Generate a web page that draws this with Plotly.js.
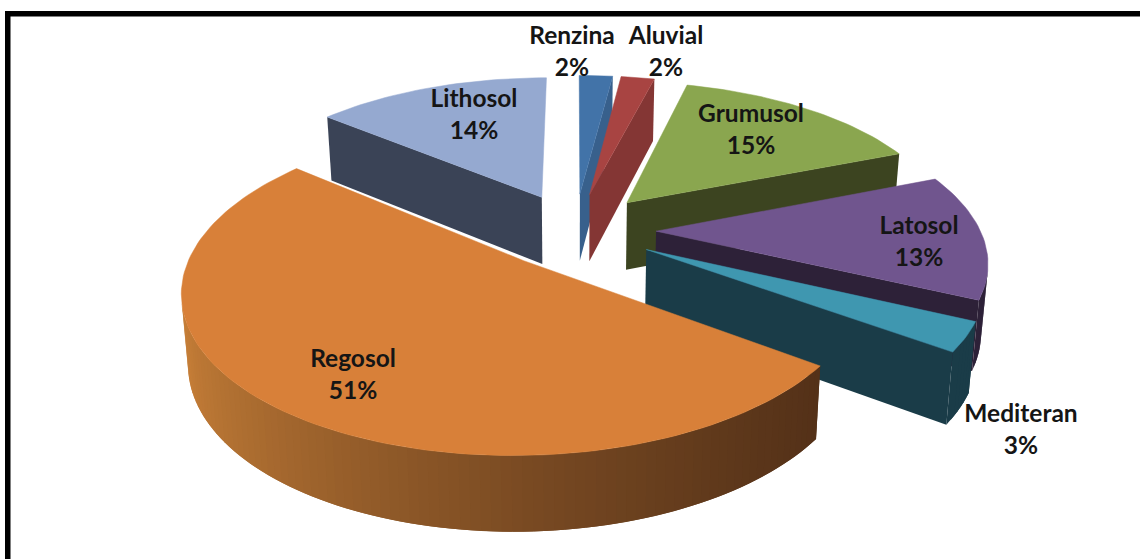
<!DOCTYPE html>
<html><head><meta charset="utf-8">
<script src="https://cdn.plot.ly/plotly-3.0.1.min.js"></script>
<style>html,body{margin:0;padding:0;background:#fff}#c{width:1140px;height:559px}</style></head>
<body><div id="c"></div>
<script>
// data, clockwise from the top of the pie
const categories = ['Renzina','Aluvial','Grumusol','Latosol','Mediteran','Regosol','Lithosol'];
const percents   = [2,2,15,13,3,51,14];
const topColors  = ['#4273A8','#A84442','#8AA64F','#70558E','#3F97B0','#D88039','#95A9D0'];
const wallColors = ['#38608C','#843634','#3C4420','#2D2138','#1A3C48','#56321A','#3A4356'];
const explode    = [0.25,0.25,0.25,0.25,0.25,0.25,0.25];
const drawOrder  = [0,1,6,2,3,4,5];
const labelX     = [572,666,751,919,1021,353,474];
const labelY     = [54,54,132,244,432,377,117];

// pie-plane to screen projection (axes are in screen pixels)
const CX=575, CY=230, A=324, B=150, K=0.17, D=68;
function topPt(u,v){const w=1+K*v;return [CX+A*u/w, CY-B*v/w];}
function botPt(u,v){const p=topPt(u,v),w=1+K*v;return [CX+(p[0]-CX)*0.983, p[1]+D/Math.sqrt(w)];}
const rad=d=>d*Math.PI/180;
function area(q){let s=0;for(let i=0;i<q.length;i++){const a=q[i],b=q[(i+1)%q.length];s+=a[0]*b[1]-b[0]*a[1];}return s;}
function poly(pts,color,lw){
  return {type:'scatter',mode:'lines',x:pts.map(p=>p[0]).concat(pts[0][0]),y:pts.map(p=>p[1]).concat(pts[0][1]),
    fill:'toself',fillcolor:color,line:{color:color,width:lw},hoverinfo:'skip',showlegend:false};
}
function mix(a,b,t){return 'rgb('+a.map((c,i)=>Math.round(c+(b[i]-c)*t)).join(',')+')';}
const total=percents.reduce((a,b)=>a+b,0);
const starts=[];let acc=0;percents.forEach(p=>{starts.push(acc);acc+=p/total*360;});
const traces=[];
drawOrder.forEach(i=>{
  const t0=starts[i],t1=t0+percents[i]/total*360,mid=rad((t0+t1)/2);
  const ou=explode[i]*Math.sin(mid),ov=explode[i]*Math.cos(mid);
  const n=Math.max(3,Math.round((t1-t0)/1.5));
  const path=[[ou,ov]];
  for(let k=0;k<=n;k++){const t=rad(t0+(t1-t0)*k/n);path.push([ou+Math.sin(t),ov+Math.cos(t)]);}
  const m=path.length;
  const isGrad=categories[i]==='Regosol';
  let prevVisible=false;
  for(let k=0;k<m;k++){
    const a=path[k],b=path[(k+1)%m];
    const q=[topPt(a[0],a[1]),topPt(b[0],b[1]),botPt(b[0],b[1]),botPt(a[0],a[1])];
    const radial=(k===0||k===m-1);
    if(area(q)<0 && !(radial && q[1][0]-q[0][0]>-6)){
      let col=wallColors[i];
      if(isGrad){
        const f=Math.min(1,Math.max(0,(q[0][0]-185)/(815-185)));
        col=mix([196,125,55],[84,49,24],Math.pow(f,0.65));
      }
      // overlap the strip drawn just before it so that no seam shows
      const from=(prevVisible&&!radial)?path[k-1]:a;
      traces.push(poly([topPt(from[0],from[1]),q[1],q[2],botPt(from[0],from[1])],col,0));
      prevVisible=true;
    } else prevVisible=false;
  }
  traces.push(poly(path.map(p=>topPt(p[0],p[1])),topColors[i],0.5));
});
traces.push({type:'scatter',mode:'text',x:labelX,y:labelY,
  text:categories.map((c,i)=>c+'<br>'+percents[i]+'%'),textposition:'middle center',
  textfont:{family:'Lato, sans-serif',size:24.5,color:'#151515',weight:700},hoverinfo:'skip',showlegend:false});
Plotly.newPlot('c',traces,{
  width:1140,height:559,margin:{l:0,r:0,t:0,b:0},paper_bgcolor:'#fff',plot_bgcolor:'#fff',showlegend:false,
  xaxis:{range:[0,1140],visible:false,fixedrange:true},
  yaxis:{range:[559,0],visible:false,fixedrange:true},
  shapes:[
    {type:'rect',xref:'x',yref:'y',x0:5,x1:1140,y0:11,y1:16.5,fillcolor:'#000',line:{width:0}},
    {type:'rect',xref:'x',yref:'y',x0:5,x1:10.5,y0:11,y1:559,fillcolor:'#000',line:{width:0}}
  ]
},{displayModeBar:false,staticPlot:true});
</script></body></html>
